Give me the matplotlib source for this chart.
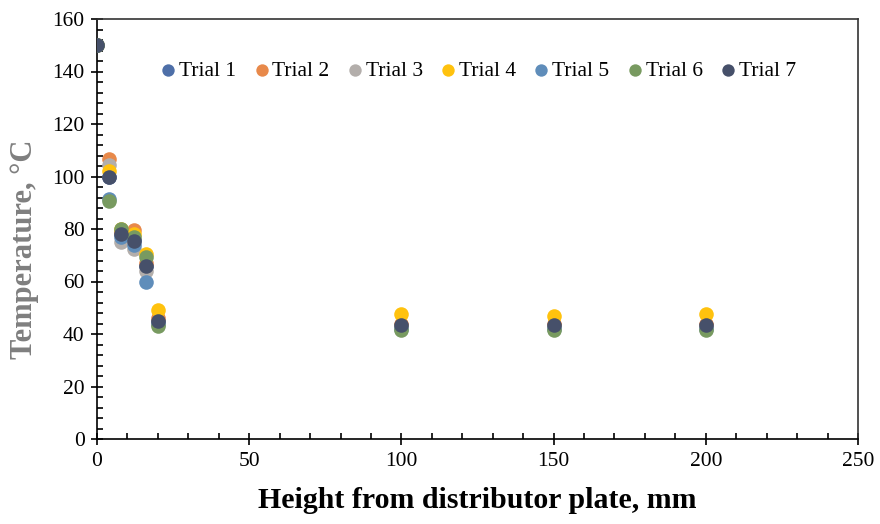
import matplotlib
matplotlib.use("Agg")
import matplotlib.pyplot as plt
from matplotlib.ticker import MultipleLocator

heights = [0, 4, 8, 12, 16, 20, 100, 150, 200]
trial_names = ["Trial 1", "Trial 2", "Trial 3", "Trial 4", "Trial 5", "Trial 6", "Trial 7"]
trial1 = [150, 100, 78, 76, 66, 45, 43.5, 43.5, 43.5]
trial2 = [150, 106.5, 79, 79.5, 67, 46, 44, 44, 44]
trial3 = [150, 104.5, 75, 72.5, 64, 44, 42.5, 42.5, 42.5]
trial4 = [150, 102, 80, 78, 70.5, 49, 47.5, 47, 47.5]
trial5 = [150, 91.5, 77, 74, 60, 44, 42, 42, 42]
trial6 = [150, 90.5, 80, 77, 69.5, 43, 41.5, 41.5, 41.5]
trial7 = [150, 100, 78, 75.5, 66, 45, 43.5, 43.5, 43.5]
trials = [trial1, trial2, trial3, trial4, trial5, trial6, trial7]
colors = ["#4E6FA8", "#E8894A", "#B3AEAB", "#FFC20E", "#5F8DBA", "#789A60", "#46506A"]

plt.rcParams['font.family'] = ['Liberation Serif', 'DejaVu Serif']

fig = plt.figure(figsize=(8.8, 5.24), dpi=100)
ax = fig.add_axes([97/880, 1-439/524, (858-97)/880, (439-19)/524])

for name, vals, c in zip(trial_names, trials, colors):
    ax.scatter(heights, vals, s=110, color=c, label=name, zorder=3, linewidths=0)

ax.set_xlim(0, 250)
ax.set_ylim(0, 160)
ax.xaxis.set_major_locator(MultipleLocator(50))
ax.xaxis.set_minor_locator(MultipleLocator(10))
ax.yaxis.set_major_locator(MultipleLocator(20))
ax.yaxis.set_minor_locator(MultipleLocator(4))
ax.tick_params(which='major', direction='inout', length=8, width=1.2, labelsize=15.5,
               top=False, right=False, colors='black')
ax.tick_params(which='minor', direction='in', length=4, width=1.2, top=False, right=False)
ax.tick_params(axis='x', which='major', pad=5)
ax.tick_params(axis='y', which='major', pad=5)
for sp in ax.spines.values():
    sp.set_linewidth(1.2)
    sp.set_color('#333333')
ax.spines['left'].set_color('black')
ax.spines['bottom'].set_color('black')

ax.set_xlabel("Height from distributor plate, mm", fontsize=21.5, fontweight='bold', labelpad=12)
ax.set_ylabel("Temperature, °C", fontsize=22, fontweight='bold', color='#7F7F7F')
ax.yaxis.set_label_coords(-0.076, 0.452)

leg = ax.legend(loc='center', bbox_to_anchor=(0.499, 0.877), ncol=7, frameon=False,
                fontsize=15.5, handletextpad=0.0, columnspacing=0.68, handlelength=1.0,
                markerscale=0.85, borderpad=0.2)

fig.savefig("out.png", dpi=100)
